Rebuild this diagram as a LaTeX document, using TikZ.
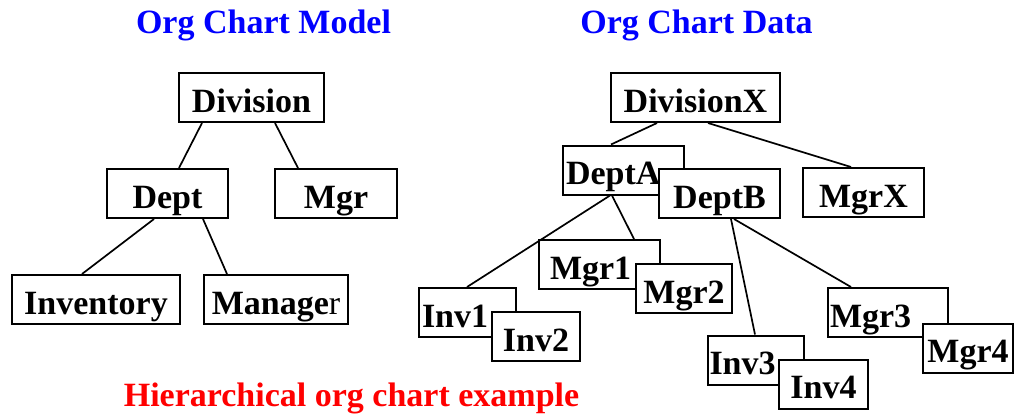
\documentclass[tikz,border=0pt]{standalone}
\usepackage{fontspec}
\setmainfont{Liberation Serif}
\newcommand\chartFont{\bfseries\fontsize{34}{34}\selectfont}
\begin{document}
\begin{tikzpicture}
            [x=1pt, y=-1pt,
             chartBox/.style={rectangle,
                        draw,
                        fill=white,
                        line width=2pt,
                        inner xsep=3pt,
                        inner ysep=0pt,
                        minimum height=49pt,
                        text height=29pt,
                        text depth=0pt,
                        font=\chartFont},
             backBox/.style={chartBox, align=left},
             title/.style={anchor=base, font=\chartFont},
             link/.style={line width=1.7pt}]

            \useasboundingbox (0,0) rectangle (1015,416);

            \node[title, blue] (modelTitle) at (263.5,33) {Org Chart Model};
            \node[title, blue] (dataTitle) at (696.5,33) {Org Chart Data};
            \node[title, red] (caption) at (351.5,406.5) {Hierarchical org chart example};

            % model
            \node[chartBox, minimum width=145] (division) at (251.5,97.5) {Division};
            \node[chartBox, minimum width=121] (dept) at (167.5,193.5) {Dept};
            \node[chartBox, minimum width=122] (mgr) at (336,193.5) {Mgr};
            \node[chartBox, minimum width=168] (inventory) at (96,299.5) {Inventory};
            \node[chartBox, minimum width=144] (manager) at (276,299.5) {Manage\textmd{r}};

            % data
            \node[chartBox, minimum width=169] (divisionX) at (695.5,97.5) {DivisionX};
            \node[backBox, text width=115] (deptA) at (623.5,170) {DeptA};
            \node[chartBox, minimum width=121] (deptB) at (719.5,193.5) {DeptB};
            \node[chartBox, minimum width=121] (mgrX) at (863.5,192.5) {MgrX};
            \node[backBox, inner xsep=11pt, text width=99] (mgrOne) at (599.5,264.5) {Mgr1};
            \node[chartBox, minimum width=96] (mgrTwo) at (684,288.5) {Mgr2};
            \node[backBox, text width=91] (invOne) at (467.5,312.5) {Inv1};
            \node[chartBox, minimum width=88] (invTwo) at (536,336.5) {Inv2};
            \node[backBox, inner xsep=2pt, text width=116] (mgrThree) at (888,312.5) {Mgr3};
            \node[chartBox, minimum width=90] (mgrFour) at (968,348) {Mgr4};
            \node[backBox, inner xsep=1.5pt, text width=93] (invThree) at (756,360) {Inv3};
            \node[chartBox, minimum width=89] (invFour) at (823.5,384) {Inv4};

            \draw [link] ([xshift=24]division.south west) -- ([xshift=73]dept.north west);
            \draw [link] ([xshift=97]division.south west) -- ([xshift=24]mgr.north west);
            \draw [link] ([xshift=48]dept.south west) -- ([xshift=71]inventory.north west);
            \draw [link] ([xshift=97]dept.south west) -- ([xshift=24]manager.north west);

            \draw [link] ([xshift=47]divisionX.south west) -- ([xshift=49]deptA.north west);
            \draw [link] ([xshift=98]divisionX.south west) -- ([xshift=49]mgrX.north west);
            \draw [link] ([xshift=48]deptA.south west) -- ([xshift=49]invOne.north west);
            \draw [link] ([xshift=50]deptA.south west) -- ([xshift=96]mgrOne.north west);
            \draw [link] ([xshift=73]deptB.south west) -- ([xshift=48]invThree.north west);
            \draw [link] ([xshift=76]deptB.south west) -- ([xshift=24]mgrThree.north west);
        \end{tikzpicture}
\end{document}
